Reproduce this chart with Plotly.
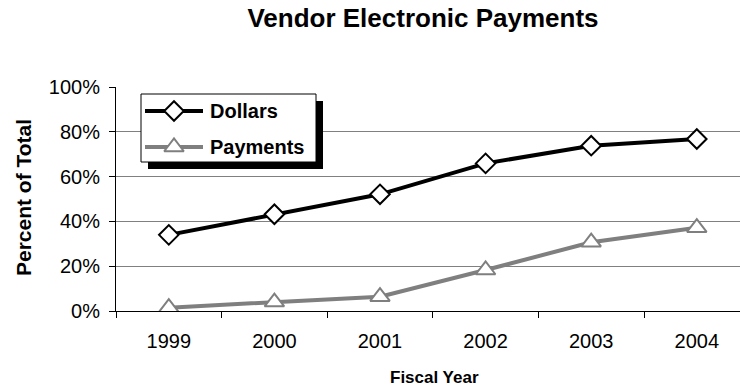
import plotly.graph_objects as go

# Fiscal years and share of vendor payments made electronically
years = ["1999", "2000", "2001", "2002", "2003", "2004"]
dollars = [0.34, 0.432, 0.521, 0.659, 0.738, 0.768]
payments = [0.015, 0.04, 0.064, 0.183, 0.307, 0.372]
series_names = ["Dollars", "Payments"]

FONT = "Liberation Sans, Arial, sans-serif"
W, H = 740, 389
L, T, B = 116, 87, 78
CAT_W = 105.6  # pixel width of one category band

BLACK = "black"
GRAY = "#7f7f7f"
styles = [
    dict(color=BLACK, symbol="diamond", size=15),
    dict(color=GRAY, symbol="triangle-up", size=17),
]

fig = go.Figure()
for name, vals, st in zip(series_names, [dollars, payments], styles):
    fig.add_trace(go.Scatter(
        x=years, y=vals, name=name, mode="lines+markers", showlegend=False,
        line=dict(color=st["color"], width=4),
        marker=dict(symbol=st["symbol"], size=st["size"], color="white",
                    line=dict(color=st["color"], width=2)),
    ))

plot_w = W - L
x_max = -0.5 + plot_w / CAT_W

# Hand-drawn legend on a pixel-based overlay axis
bx0, bx1, by0, by1 = 141, 316, 94, 162
shadow = 7
rows_y = [111, 147]
sample_x = (145, 203)
marker_x = 174
text_x = 208


def rect_trace(x0, x1, y0, y1, fill, edge, width):
    return go.Scatter(
        x=[x0, x1, x1, x0, x0], y=[y0, y0, y1, y1, y0],
        xaxis="x2", yaxis="y2", mode="lines", fill="toself",
        fillcolor=fill, line=dict(color=edge, width=width),
        showlegend=False, hoverinfo="skip",
    )


fig.add_trace(rect_trace(bx0 + shadow, bx1 + shadow, by0 + shadow, by1 + shadow,
                         BLACK, BLACK, 0))
fig.add_trace(rect_trace(bx0, bx1, by0, by1, "white", BLACK, 1))

for name, ry, st in zip(series_names, rows_y, styles):
    fig.add_trace(go.Scatter(
        x=list(sample_x), y=[ry, ry], xaxis="x2", yaxis="y2", mode="lines",
        showlegend=False, hoverinfo="skip",
        line=dict(color=st["color"], width=4),
    ))
    fig.add_trace(go.Scatter(
        x=[marker_x], y=[ry], xaxis="x2", yaxis="y2", mode="markers",
        showlegend=False, hoverinfo="skip",
        marker=dict(symbol=st["symbol"], size=st["size"], color="white",
                    line=dict(color=st["color"], width=2)),
    ))
    fig.add_annotation(text=f"<b>{name}</b>", xref="x2", yref="y2",
                       x=text_x, y=ry, xanchor="left", yanchor="middle",
                       showarrow=False,
                       font=dict(family=FONT, size=20, color=BLACK))


def px_x(px):
    return (px - L) / plot_w


def px_y(py):
    return (H - B - py) / (H - T - B)


fig.add_annotation(text="<b>Fiscal Year</b>", xref="paper", yref="paper",
                   x=px_x(434), y=px_y(377), xanchor="center", yanchor="middle",
                   showarrow=False,
                   font=dict(family=FONT, size=17, color=BLACK))
fig.add_annotation(text="<b>Percent of Total</b>", xref="paper", yref="paper",
                   x=px_x(23), y=px_y(198), xanchor="center", yanchor="middle",
                   showarrow=False, textangle=-90,
                   font=dict(family=FONT, size=21, color=BLACK))

fig.update_layout(
    width=W, height=H,
    margin=dict(l=L, r=0, t=T, b=B),
    paper_bgcolor="white", plot_bgcolor="white",
    font=dict(family=FONT, size=20, color=BLACK),
    title=dict(text="<b>Vendor Electronic Payments</b>", x=423 / W, xanchor="center",
               y=1 - 18 / H, yanchor="middle",
               font=dict(family=FONT, size=26, color=BLACK)),
    showlegend=False,
    xaxis=dict(type="category", range=[-0.5, x_max], tickson="boundaries",
               ticks="outside", ticklen=6, tickcolor=BLACK, tickwidth=1,
               showline=True, linecolor=BLACK, linewidth=1,
               showgrid=False, zeroline=False, ticklabelstandoff=12,
               tickfont=dict(family=FONT, size=20, color=BLACK)),
    yaxis=dict(range=[0, 1], dtick=0.2, tickformat=".0%",
               ticks="outside", ticklen=6, tickcolor=BLACK, tickwidth=1,
               showline=True, linecolor=BLACK, linewidth=1,
               showgrid=True, gridcolor="#808080", gridwidth=1,
               zeroline=False, ticklabelstandoff=5,
               tickfont=dict(family=FONT, size=20, color=BLACK)),
    xaxis2=dict(overlaying="x", anchor="y2", range=[L, W], visible=False,
                fixedrange=True),
    yaxis2=dict(overlaying="y", anchor="x2", range=[H - B, T], visible=False,
                fixedrange=True),
)

fig.write_html("out.html")
